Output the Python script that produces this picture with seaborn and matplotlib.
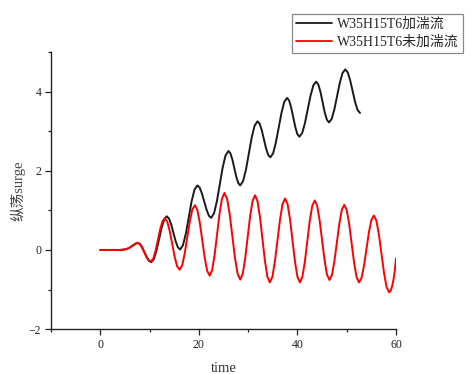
import matplotlib
matplotlib.use("Agg")
import matplotlib.pyplot as plt
from matplotlib.ticker import MultipleLocator
from matplotlib.font_manager import FontProperties
from matplotlib.lines import Line2D
import seaborn as sns
import pandas as pd

# ---- data ----
series_names = ["W35H15T6加湍流", "W35H15T6未加湍流"]
series_colors = ["#1a1a1a", "#ff0000"]

t_black = [0, 2, 4, 4.6, 5.3, 6.0, 6.6, 7.1, 7.6,
           8.06, 8.52, 8.98, 9.43, 9.89, 10.35,
           10.88, 11.4, 11.93, 12.45, 12.98, 13.5,
           13.95, 14.4, 14.85, 15.3, 15.75, 16.2,
           16.78, 17.37, 17.95, 18.53, 19.12, 19.7,
           20.17, 20.63, 21.1, 21.57, 22.03, 22.5,
           23.08, 23.67, 24.25, 24.83, 25.42, 26.0,
           26.4, 26.8, 27.2, 27.6, 28.0, 28.4,
           28.98, 29.57, 30.15, 30.73, 31.32, 31.9,
           32.33, 32.77, 33.2, 33.63, 34.07, 34.5,
           35.07, 35.63, 36.2, 36.77, 37.33, 37.9,
           38.32, 38.73, 39.15, 39.57, 39.98, 40.4,
           40.97, 41.53, 42.1, 42.67, 43.23, 43.8,
           44.23, 44.67, 45.1, 45.53, 45.97, 46.4,
           46.95, 47.5, 48.05, 48.6, 49.15, 49.7,
           50.2, 50.7, 51.2, 51.7, 52.2, 52.7]
y_black = [0, 0, 0, 0.005, 0.02, 0.06, 0.11, 0.155, 0.18,
           0.147, 0.058, -0.065, -0.188, -0.277, -0.31,
           -0.232, -0.02, 0.27, 0.56, 0.772, 0.85,
           0.794, 0.64, 0.43, 0.22, 0.066, 0.01,
           0.119, 0.415, 0.82, 1.225, 1.521, 1.63,
           1.575, 1.425, 1.22, 1.015, 0.865, 0.81,
           0.923, 1.233, 1.655, 2.078, 2.387, 2.50,
           2.442, 2.283, 2.065, 1.848, 1.688, 1.63,
           1.739, 2.035, 2.44, 2.845, 3.141, 3.25,
           3.189, 3.023, 2.795, 2.568, 2.401, 2.34,
           2.44, 2.715, 3.09, 3.465, 3.74, 3.84,
           3.774, 3.595, 3.35, 3.105, 2.926, 2.86,
           2.953, 3.208, 3.555, 3.903, 4.157, 4.25,
           4.181, 3.993, 3.735, 3.478, 3.289, 3.22,
           3.31, 3.555, 3.89, 4.225, 4.47, 4.56,
           4.486, 4.285, 4.01, 3.735, 3.534, 3.46]

t_red = [0, 2, 4, 4.6, 5.3, 6.0, 6.6, 7.1, 7.6,
         8.05, 8.5, 8.95, 9.4, 9.85, 10.3,
         10.77, 11.23, 11.7, 12.17, 12.63, 13.1,
         13.6, 14.1, 14.6, 15.1, 15.6, 16.1,
         16.62, 17.13, 17.65, 18.17, 18.68, 19.2,
         19.7, 20.2, 20.7, 21.2, 21.7, 22.2,
         22.7, 23.2, 23.7, 24.2, 24.7, 25.2,
         25.73, 26.27, 26.8, 27.33, 27.87, 28.4,
         28.9, 29.4, 29.9, 30.4, 30.9, 31.4,
         31.9, 32.4, 32.9, 33.4, 33.9, 34.4,
         34.92, 35.43, 35.95, 36.47, 36.98, 37.5,
         38.0, 38.5, 39.0, 39.5, 40.0, 40.5,
         41.0, 41.5, 42.0, 42.5, 43.0, 43.5,
         44.0, 44.5, 45.0, 45.5, 46.0, 46.5,
         47.0, 47.5, 48.0, 48.5, 49.0, 49.5,
         50.0, 50.5, 51.0, 51.5, 52.0, 52.5,
         53.0, 53.5, 54.0, 54.5, 55.0, 55.5,
         56.02, 56.53, 57.05, 57.57, 58.08, 58.6,
         58.9, 59.2, 59.5, 59.75, 60.0]
y_red = [0, 0, 0, 0.005, 0.02, 0.06, 0.11, 0.155, 0.18,
         0.149, 0.063, -0.055, -0.173, -0.259, -0.29,
         -0.217, -0.018, 0.255, 0.528, 0.727, 0.80,
         0.713, 0.475, 0.15, -0.175, -0.413, -0.50,
         -0.391, -0.093, 0.315, 0.723, 1.021, 1.13,
         1.011, 0.685, 0.24, -0.205, -0.531, -0.65,
         -0.51, -0.128, 0.395, 0.918, 1.30, 1.44,
         1.293, 0.893, 0.345, -0.203, -0.603, -0.75,
         -0.607, -0.218, 0.315, 0.848, 1.237, 1.38,
         1.233, 0.83, 0.28, -0.27, -0.673, -0.82,
         -0.678, -0.29, 0.24, 0.77, 1.158, 1.30,
         1.158, 0.77, 0.24, -0.29, -0.678, -0.82,
         -0.681, -0.303, 0.215, 0.733, 1.111, 1.25,
         1.115, 0.748, 0.245, -0.258, -0.625, -0.76,
         -0.633, -0.285, 0.19, 0.665, 1.013, 1.14,
         1.009, 0.65, 0.16, -0.33, -0.689, -0.82,
         -0.707, -0.398, 0.025, 0.448, 0.757, 0.87,
         0.74, 0.385, -0.10, -0.585, -0.94, -1.07,
         -1.03, -0.92, -0.74, -0.52, -0.21]

x_major = [0, 20, 40, 60]
y_major = [-2, 0, 2, 4]
x_label = "time"
y_label = "纵荡surge"

df = pd.concat([
    pd.DataFrame({"time": t_black, "surge": y_black, "case": series_names[0]}),
    pd.DataFrame({"time": t_red, "surge": y_red, "case": series_names[1]}),
], ignore_index=True)

sns.set_style("ticks")
fam = ["Liberation Serif", "Noto Sans CJK SC", "DejaVu Sans"]
plt.rcParams["font.family"] = fam

fig = plt.figure(figsize=(4.76, 3.74), dpi=100)
ax = fig.add_axes([0.107, 0.120, 0.725, 0.741])

sns.lineplot(data=df, x="time", y="surge", hue="case",
             palette=dict(zip(series_names, series_colors)),
             linewidth=1.4, sort=False, estimator=None, ax=ax, legend=False)

ax.set_xlim(-10, 60)
ax.set_ylim(-2, 5)
ax.set_xticks(x_major)
ax.set_yticks(y_major)
ax.xaxis.set_minor_locator(MultipleLocator(10))
ax.yaxis.set_minor_locator(MultipleLocator(1))
ax.tick_params(which="major", direction="out", length=4, width=0.9,
               labelsize=8.5, colors="#222222", pad=3)
ax.tick_params(which="minor", direction="out", length=2.5, width=0.9,
               colors="#222222")
sns.despine(ax=ax)
for s in ["left", "bottom"]:
    ax.spines[s].set_linewidth(1.0)
    ax.spines[s].set_color("#222222")

ax.set_xlabel(x_label, fontsize=10.5, family=fam, color="#333333", labelpad=8)
ax.set_ylabel(y_label, fontsize=10.5, family=fam, color="#444444", labelpad=2)

handles = [Line2D([], [], color=c, linewidth=1.3) for c in series_colors]
leg = fig.legend(handles, series_names, loc="upper right",
                 bbox_to_anchor=(0.973, 0.963),
                 prop=FontProperties(family=fam, size=10),
                 frameon=True, fancybox=False, framealpha=1,
                 edgecolor="#888888", handlelength=2.6, handletextpad=0.4,
                 borderpad=0.3, labelspacing=0.3, borderaxespad=0)
leg.get_frame().set_linewidth(0.9)

fig.savefig("out.png", dpi=100)
